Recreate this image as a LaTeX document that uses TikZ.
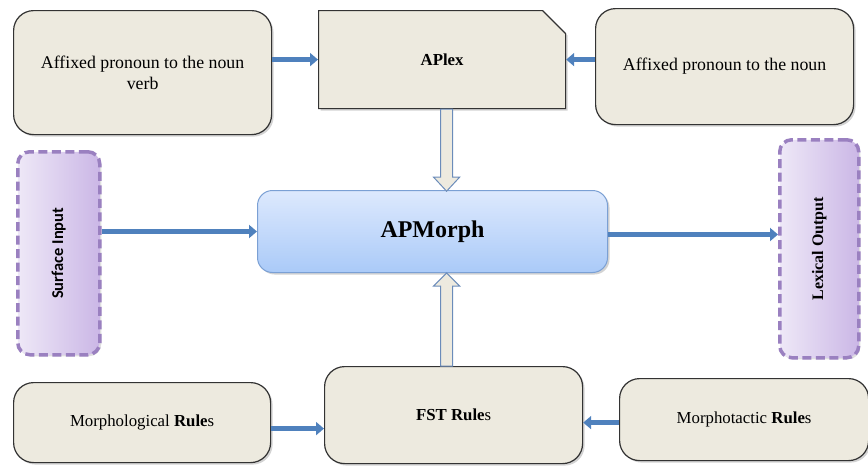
\documentclass[tikz,border=0pt]{standalone}
\usepackage{fontspec}
\setmainfont{Liberation Serif}
\newfontfamily\calib{Carlito}
\usetikzlibrary{shadows,arrows.meta,shapes.misc}
\definecolor{beige}{HTML}{EDEADF}
\definecolor{arrowblue}{HTML}{4F81BD}
\definecolor{apmtop}{HTML}{DDE9FD}
\definecolor{apmbot}{HTML}{AACAF8}
\definecolor{apmborder}{HTML}{7BA0D4}
\definecolor{purpborder}{HTML}{9A80C0}
\definecolor{purpleft}{HTML}{EEE8F7}
\definecolor{purpright}{HTML}{CBB7E6}
\definecolor{hollowborder}{HTML}{6B8CBA}
\tikzset{
  boxshadow/.style={drop shadow={opacity=0.35,shadow xshift=2pt,shadow yshift=-2pt}},
  beigebox/.style={draw=black!80,line width=1.2pt,fill=beige,rounded corners=20pt,
    boxshadow,anchor=north west,align=center,inner sep=0pt},
  snipbox/.style={draw=black!80,line width=1.2pt,fill=beige,chamfered rectangle,
    chamfered rectangle corners=north east,chamfered rectangle xsep=18pt,chamfered rectangle ysep=17pt,
    boxshadow,anchor=north west,inner sep=0pt},
  apmbox/.style={draw=apmborder,line width=1pt,top color=apmtop,bottom color=apmbot,
    rounded corners=15pt,boxshadow,anchor=north west,inner sep=0pt},
  dashbox/.style={draw=purpborder,line width=3.5pt,dash pattern=on 9pt off 4.5pt,
    left color=purpleft,right color=purpright,rounded corners=12pt,anchor=north west,inner sep=0pt,
    drop shadow={opacity=0.25,shadow xshift=1.5pt,shadow yshift=-1.5pt}},
  bluearrow/.style={draw=arrowblue,line width=5pt,-{Triangle[width=13pt,length=8pt]}},
  hollow/.style={draw=hollowborder,line width=1pt,fill=beige,line join=miter},
  txt/.style={font=\fontsize{17.8}{21}\selectfont},
  txtb/.style={font=\fontsize{16.8}{20}\selectfont},
}
\begin{document}
\begin{tikzpicture}[x=1pt,y=-1pt]
\useasboundingbox (0,0) rectangle (868,466);

% top row
\node[beigebox,txt,minimum width=258,minimum height=124] (tl) at (13,10)
  {Affixed pronoun to the noun\\verb};
\node[snipbox,txtb,minimum width=247,minimum height=98] (aplex) at (318,10)
  {\textbf{APlex}};
\node[beigebox,txt,minimum width=258,minimum height=116] (tr) at (595,8)
  {Affixed pronoun to the noun};

% middle row
\node[dashbox,minimum width=82,minimum height=203] (si) at (16,150)
  {\rotatebox{90}{\calib\bfseries\fontsize{16.5}{20}\selectfont Surface Input}};
\node[apmbox,minimum width=350,minimum height=82,font=\fontsize{24}{28}\selectfont] (apm) at (257,190)
  {\textbf{APMorph}};
\node[dashbox,minimum width=79,minimum height=218] (lo) at (778,138)
  {\rotatebox{90}{\bfseries\fontsize{16}{20}\selectfont Lexical Output}};

% bottom row
\node[beigebox,txtb,minimum width=257,minimum height=80] (bl) at (13,382)
  {Morphological \textbf{Rule}s};
\node[beigebox,txtb,minimum width=258,minimum height=97] (fst) at (324,366)
  {\textbf{FST Rule}s};
\node[beigebox,txtb,minimum width=249,minimum height=82] (br) at (619,378)
  {Morphotactic \textbf{Rule}s};

% connector start points
\coordinate (apmE) at ([yshift=-3pt]apm.east);
\coordinate (blE) at ([yshift=-6pt]bl.east);
\coordinate (brW) at ([yshift=-3pt]br.west);
\coordinate (dnS) at ([xshift=4.5pt]aplex.south);
\coordinate (upS) at ([xshift=-7pt]fst.north);

% blue arrows
\draw[bluearrow] (tl.east |- aplex.west) -- (aplex.west);
\draw[bluearrow] (tr.west |- aplex.east) -- (aplex.east);
\draw[bluearrow] (si.east |- apm.west) -- (apm.west);
\draw[bluearrow] (apmE) -- (lo.west |- apmE);
\draw[bluearrow] (blE) -- (fst.west |- blE);
\draw[bluearrow] (brW) -- (fst.east |- brW);

% hollow arrows
\draw[hollow] (dnS) ++(-6,0) -- ++(12,0) -- ++(0,68) -- ++(7,0)
  -- ++(-13,14) -- ++(-13,-14) -- ++(7,0) -- cycle;
\draw[hollow] (upS) ++(-6,0) -- ++(12,0) -- ++(0,-80) -- ++(7,0)
  -- ++(-13,-13) -- ++(-13,13) -- ++(7,0) -- cycle;
\end{tikzpicture}
\end{document}
